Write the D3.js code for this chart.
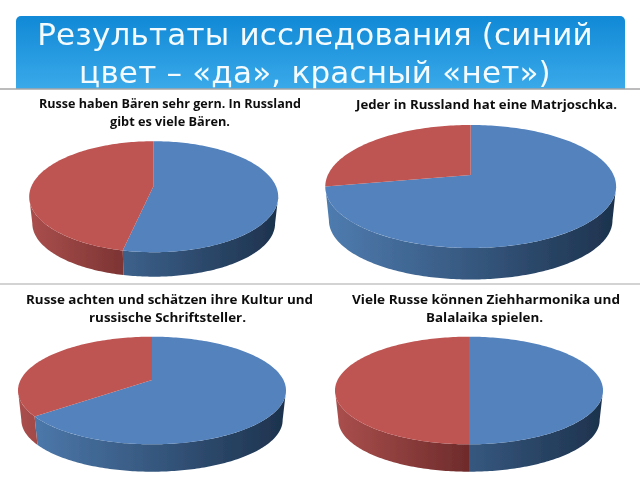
<!DOCTYPE html>
<html>
<head>
<meta charset="utf-8">
<script src="https://cdn.jsdelivr.net/npm/d3@7"></script>
<style>
html, body { margin: 0; padding: 0; background: #fff; }
svg { display: block; }
</style>
</head>
<body>
<div id="chart"></div>
<script>
// values, in percent
var categories = ['да', 'нет'];
var yesValues = [54, 75, 67, 50];
var noValues = [46, 25, 33, 50];

var slideTitle = ['Результаты исследования (синий', 'цвет – «да», красный «нет»)'];
var pieTitles = [
    ['Russe haben Bären sehr gern. In Russland', 'gibt es viele Bären.'],
    ['Jeder in Russland hat eine Matrjoschka.'],
    ['Russe achten und schätzen ihre Kultur und', 'russische Schriftsteller.'],
    ['Viele Russe können Ziehharmonika und', 'Balalaika spielen.']
];

// where each pie sits on the slide
var frames = [
    { cx: 153.7, cy: 196.7, rx: 124.5, ry: 55.5, bottom: 276.7, apex: -11, titleX: [170, 170], titleY: [108, 125.5], titleW: [262, 120] },
    { cx: 470.7, cy: 186.5, rx: 145.4, ry: 61.5, bottom: 279.5, apex: -11.5, titleX: [486.5], titleY: [109], titleW: [261] },
    { cx: 152, cy: 390.5, rx: 134, ry: 53.8, bottom: 471.7, apex: -10.5, titleX: [169.5, 167.5], titleY: [303.5, 322], titleW: [287, 157] },
    { cx: 469, cy: 390.5, rx: 134, ry: 53.8, bottom: 471.7, apex: -10.5, titleX: [486, 484.5], titleY: [303.5, 322], titleW: [268, 117] }
];

var width = 640, height = 480;

var svg = d3.select('#chart').append('svg')
    .attr('width', width)
    .attr('height', height);

var defs = svg.append('defs');

var titleGrad = defs.append('linearGradient')
    .attr('id', 'titleGrad')
    .attr('x1', 0).attr('y1', 0).attr('x2', 0).attr('y2', 1);
titleGrad.append('stop').attr('offset', 0).attr('stop-color', '#1189d6');
titleGrad.append('stop').attr('offset', 1).attr('stop-color', '#43b1ee');

defs.append('filter').attr('id', 'soft')
    .append('feGaussianBlur').attr('stdDeviation', 0.35);

var topColors = { 'да': '#5382bd', 'нет': '#bf5452' };
var wallStops = {
    'да': [[0, '#4f7cb0'], [0.5, '#36587f'], [1, '#1d324d']],
    'нет': [[0, '#aa4f4d'], [0.5, '#6e2b2b'], [1, '#5c2322']]
};

// slide header
svg.append('rect')
    .attr('x', 16).attr('y', 16)
    .attr('width', 609).attr('height', 90)
    .attr('rx', 5)
    .attr('fill', 'url(#titleGrad)');

svg.selectAll('text.slide-title')
    .data(slideTitle)
    .enter().append('text')
    .attr('class', 'slide-title')
    .attr('x', 315)
    .attr('y', function(d, i) { return 45 + i * 38; })
    .attr('text-anchor', 'middle')
    .attr('font-family', 'DejaVu Sans')
    .attr('font-size', 31)
    .attr('letter-spacing', 0.2)
    .attr('fill', '#f4fbff')
    .attr('filter', 'url(#soft)')
    .text(function(d) { return d; });

// white sheet under the header hides the rest of it
svg.append('rect')
    .attr('x', 0).attr('y', 89)
    .attr('width', width).attr('height', height - 89)
    .attr('fill', '#fff');

svg.selectAll('line.rule')
    .data([89, 284])
    .enter().append('line')
    .attr('class', 'rule')
    .attr('x1', 0).attr('x2', width)
    .attr('y1', function(d) { return d; })
    .attr('y2', function(d) { return d; })
    .attr('stroke', function(d, i) { return i ? '#c4c4c4' : '#a6a6a6'; })
    .attr('stroke-width', 1.3);

var pie = d3.pie().sort(null).value(function(d) { return d.value; });
var lineGen = d3.line();

function ellipsePoints(x, y, a0, a1) {
    var n = Math.max(2, Math.ceil(Math.abs(a1 - a0) / 0.02));
    return d3.range(n + 1).map(function(k) {
        var a = a0 + (a1 - a0) * k / n;
        return [x(Math.sin(a)), y(-Math.cos(a))];
    });
}

frames.forEach(function(f, idx) {
    var rows = categories.map(function(c, i) {
        return { key: c, value: (i === 0 ? yesValues : noValues)[idx] };
    });
    var arcs = pie(rows);

    var x = d3.scaleLinear().domain([-1, 1]).range([f.cx - f.rx, f.cx + f.rx]);
    var y = d3.scaleLinear().domain([-1, 1]).range([f.cy - f.ry, f.cy + f.ry]);
    // the base is a bit smaller, the picture has some perspective
    var brx = f.rx * 0.975, bry = f.ry * 0.96;
    var bcy = f.bottom - bry;
    var bx = d3.scaleLinear().domain([-1, 1]).range([f.cx - brx, f.cx + brx]);
    var by = d3.scaleLinear().domain([-1, 1]).range([bcy - bry, bcy + bry]);

    var g = svg.append('g').attr('class', 'pie').attr('filter', 'url(#soft)');

    categories.forEach(function(c) {
        var grad = defs.append('linearGradient')
            .attr('id', 'wall' + idx + categories.indexOf(c))
            .attr('gradientUnits', 'userSpaceOnUse')
            .attr('x1', f.cx - f.rx).attr('x2', f.cx + f.rx)
            .attr('y1', 0).attr('y2', 0);
        wallStops[c].forEach(function(s) {
            grad.append('stop').attr('offset', s[0]).attr('stop-color', s[1]);
        });
    });

    // side walls, only the front half can be seen
    arcs.forEach(function(d, i) {
        var a0 = Math.max(d.startAngle, Math.PI / 2);
        var a1 = Math.min(d.endAngle, Math.PI * 1.5);
        if (a1 <= a0) return;
        var pts = ellipsePoints(x, y, a0, a1)
            .concat(ellipsePoints(bx, by, a1, a0));
        g.append('path')
            .attr('d', lineGen(pts) + 'Z')
            .attr('fill', 'url(#wall' + idx + i + ')');
    });

    // top face
    arcs.forEach(function(d) {
        var pts = [[f.cx, f.cy + f.apex]].concat(ellipsePoints(x, y, d.startAngle, d.endAngle));
        g.append('path')
            .attr('d', lineGen(pts) + 'Z')
            .attr('fill', topColors[d.data.key]);
    });

    svg.append('g').selectAll('text')
        .data(pieTitles[idx])
        .enter().append('text')
        .attr('x', function(d, i) { return f.titleX[i]; })
        .attr('y', function(d, i) { return f.titleY[i]; })
        .attr('text-anchor', 'middle')
        .attr('font-family', 'Open Sans')
        .attr('font-weight', 700)
        .attr('font-size', 13)
        .attr('textLength', function(d, i) { return f.titleW[i]; })
        .attr('lengthAdjust', 'spacingAndGlyphs')
        .attr('fill', '#111')
        .attr('filter', 'url(#soft)')
        .text(function(d) { return d; });
});
</script>
</body>
</html>
